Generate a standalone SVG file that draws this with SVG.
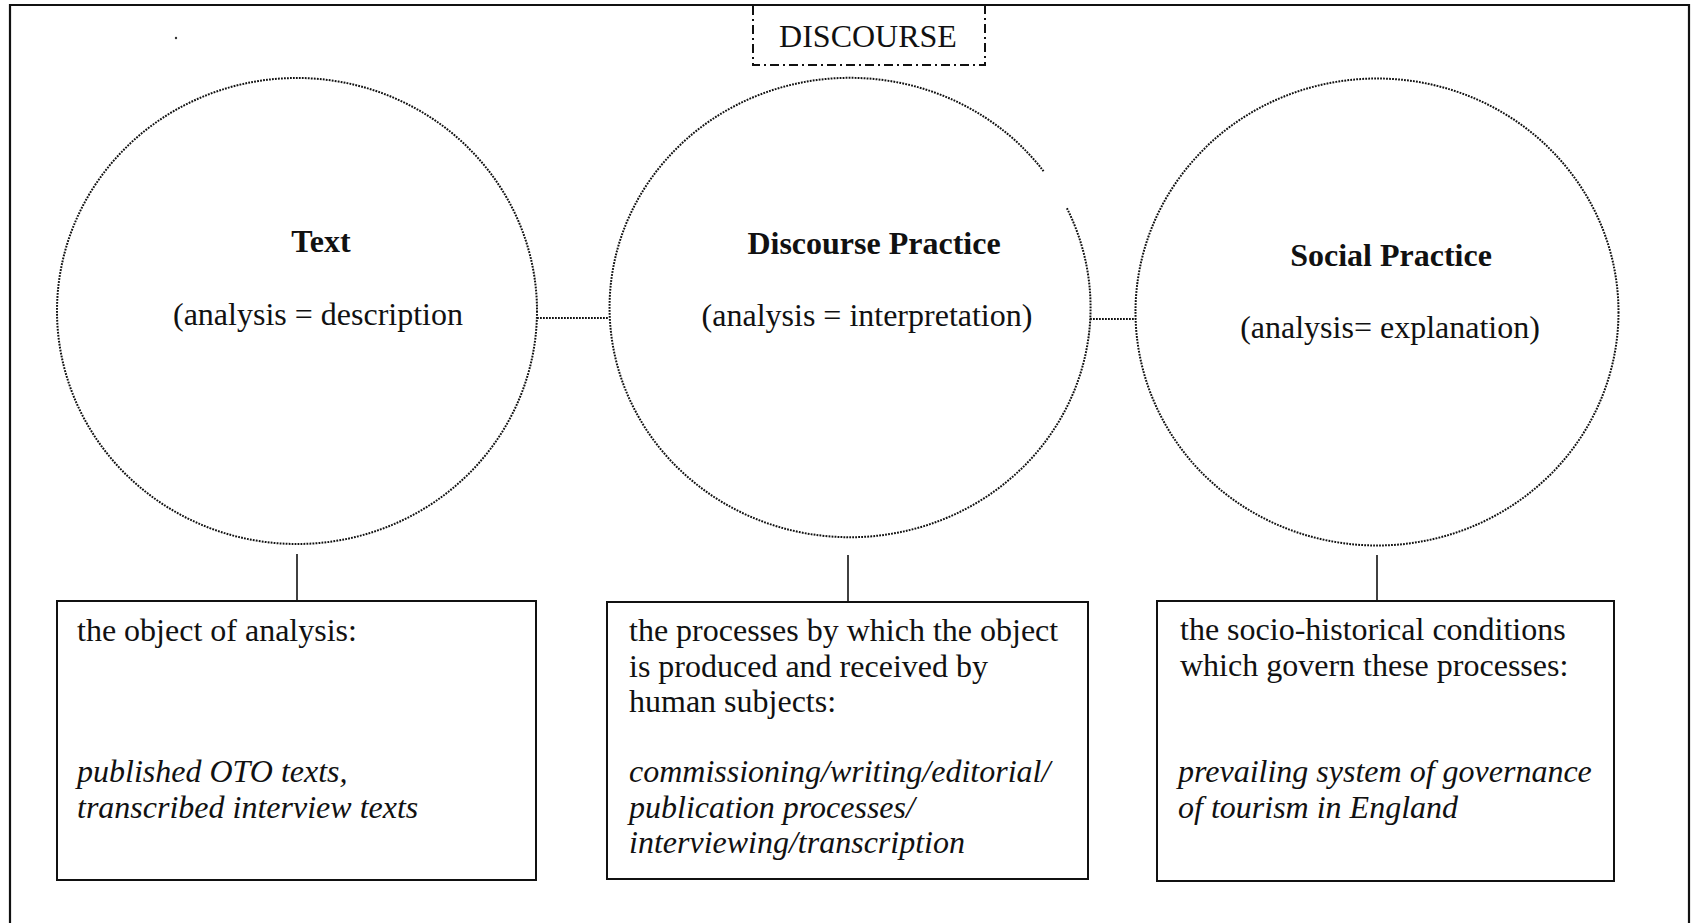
<svg xmlns="http://www.w3.org/2000/svg" width="1691" height="923" viewBox="0 0 1691 923">
  <style>
    text { font-family: "Liberation Serif", "Times New Roman", serif; font-size: 32px; fill: #111; }
    .title { font-weight: bold; text-anchor: middle; }
    .sub { text-anchor: middle; }
    .it { font-style: italic; }
    .ellipse { fill: none; stroke: #111; stroke-width: 2; stroke-dasharray: 1.8 1.2; }
    .dotted { fill: none; stroke: #111; stroke-width: 2; stroke-dasharray: 1.8 1.2; }
    .solid { fill: none; stroke: #111; stroke-width: 1.6; }
    .box { fill: #fff; stroke: #111; stroke-width: 2; }
  </style>

  <rect width="1691" height="923" fill="#fff"/>

  <!-- outer frame (bottom edge runs past the page) -->
  <path d="M10,935 L10,5 L1689,5 L1689,935" fill="none" stroke="#111" stroke-width="2.2"/>
  <circle cx="176" cy="38" r="1.2" fill="#333"/>

  <!-- DISCOURSE label box -->
  <g id="discourse">
    <path d="M753,6 L753,65 L985,65 L985,6" fill="none" stroke="#111" stroke-width="2" stroke-dasharray="9 4 2 4"/>
    <text x="868" y="47" class="sub">DISCOURSE</text>
  </g>

  <!-- connectors -->
  <g id="connectors">
    <line x1="537" y1="318" x2="609" y2="318" class="dotted"/>
    <line x1="1090" y1="319" x2="1136" y2="319" class="dotted"/>
    <line x1="297" y1="554" x2="297" y2="601" class="solid"/>
    <line x1="848" y1="555" x2="848" y2="602" class="solid"/>
    <line x1="1377" y1="555" x2="1377" y2="601" class="solid"/>
  </g>

  <!-- Text -->
  <g id="text-node">
    <ellipse cx="297" cy="311" rx="240" ry="233" class="ellipse"/>
    <text x="321" y="252" class="title">Text</text>
    <text x="173" y="325">(analysis = description</text>
  </g>

  <!-- Discourse Practice (outline has a small break at upper right) -->
  <g id="discourse-practice">
    <path d="M1066.9,208.2 A240.5,229.7 0 1 1 1044.3,172.1" class="ellipse"/>
    <text x="874" y="254" class="title">Discourse Practice</text>
    <text x="867" y="326" class="sub">(analysis = interpretation)</text>
  </g>

  <!-- Social Practice -->
  <g id="social-practice">
    <ellipse cx="1377" cy="312" rx="241.5" ry="233.5" class="ellipse"/>
    <text x="1391" y="266" class="title">Social Practice</text>
    <text x="1390" y="338" class="sub">(analysis= explanation)</text>
  </g>

  <!-- description boxes -->
  <g id="box-text">
    <rect x="57" y="601" width="479" height="279" class="box"/>
    <text x="77" y="641">the object of analysis:</text>
    <text x="77" y="782" class="it">published OTO texts,</text>
    <text x="77" y="818" class="it">transcribed interview texts</text>
  </g>

  <g id="box-discourse-practice">
    <rect x="607" y="602" width="481" height="277" class="box"/>
    <text x="629" y="641">the processes by which the object</text>
    <text x="629" y="677">is produced and received by</text>
    <text x="629" y="712">human subjects:</text>
    <text x="629" y="782" class="it">commissioning/writing/editorial/</text>
    <text x="629" y="818" class="it">publication processes/</text>
    <text x="629" y="853" class="it">interviewing/transcription</text>
  </g>

  <g id="box-social-practice">
    <rect x="1157" y="601" width="457" height="280" class="box"/>
    <text x="1180" y="640">the socio-historical conditions</text>
    <text x="1180" y="676">which govern these processes:</text>
    <text x="1178" y="782" class="it">prevailing system of governance</text>
    <text x="1178" y="818" class="it">of tourism in England</text>
  </g>
</svg>
